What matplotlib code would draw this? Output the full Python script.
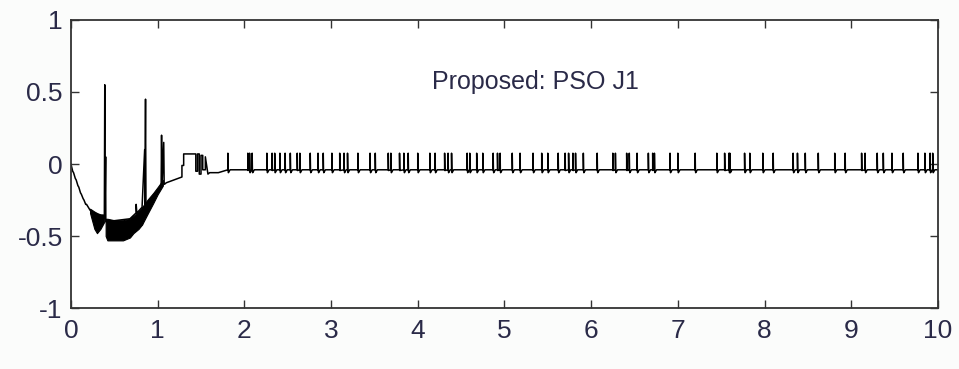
import numpy as np
import matplotlib
matplotlib.use("Agg")
import matplotlib.pyplot as plt

# ---- data ----
# skeleton of the early transient (time, value)
early_x = [0.0, 0.02, 0.03, 0.05, 0.06, 0.08, 0.09, 0.11, 0.12, 0.14, 0.15, 0.17, 0.18, 0.20, 0.22, 0.25, 0.28,
           0.385, 0.39, 0.392, 0.40, 0.402, 0.41,
           0.68, 0.75, 0.752, 0.76, 0.82, 0.85, 0.852, 0.86, 0.865, 0.87,
           0.95, 1.04, 1.045, 1.05, 1.07, 1.075, 1.08, 1.10, 1.28, 1.28, 1.30, 1.30,
           1.44, 1.44, 1.46, 1.46, 1.48, 1.48, 1.50, 1.50, 1.52, 1.52, 1.55, 1.55, 1.58, 1.60,
           1.70, 1.78]
early_y = [0.0, -0.05, -0.06, -0.10, -0.11, -0.15, -0.16, -0.20, -0.21, -0.24, -0.25, -0.28, -0.28, -0.30, -0.32, -0.34, -0.35,
           -0.36, 0.55, -0.38, 0.05, -0.40, -0.40,
           -0.38, -0.34, -0.28, -0.34, -0.30, 0.10, -0.28, 0.45, -0.27, -0.28,
           -0.22, -0.16, 0.20, -0.15, 0.15, -0.14, -0.14, -0.13, -0.09, -0.01, -0.01, 0.07,
           0.07, -0.05, -0.05, 0.07, 0.07, -0.07, -0.07, 0.06, 0.06, -0.04, -0.04, 0.05, -0.07, -0.06,
           -0.06, -0.045]

# thick oscillation bands (envelopes)
bandA_x = [0.22, 0.27, 0.30, 0.34, 0.385]
bandA_hi = [-0.31, -0.33, -0.34, -0.35, -0.35]
bandA_lo = [-0.34, -0.45, -0.48, -0.45, -0.40]

bandB_x = [0.40, 0.42, 0.50, 0.60, 0.68, 0.72, 0.78, 0.82]
bandB_hi = [-0.38, -0.38, -0.39, -0.39, -0.38, -0.36, -0.33, -0.30]
bandB_lo = [-0.50, -0.53, -0.53, -0.53, -0.51, -0.48, -0.45, -0.42]

bandC_x = [0.82, 0.88, 0.95, 1.00, 1.06]
bandC_hi = [-0.30, -0.25, -0.20, -0.16, -0.11]
bandC_lo = [-0.42, -0.35, -0.27, -0.21, -0.15]

# periodic spikes after the transient
spike_x = [1.81, 2.04, 2.09, 2.26, 2.32, 2.41, 2.47, 2.53, 2.61, 2.76, 2.85, 2.91, 3.01, 3.10,
           3.19, 3.31, 3.45, 3.51, 3.66, 3.79, 3.89, 4.00, 4.14, 4.20, 4.31, 4.39, 4.57, 4.60,
           4.68, 4.75, 4.87, 4.92, 5.09, 5.18, 5.33, 5.43, 5.50, 5.62, 5.70, 5.79, 5.91, 6.07,
           6.25, 6.41, 6.53, 6.66, 6.71, 6.91, 7.00, 7.20, 7.45, 7.54, 7.60, 7.77, 7.83, 7.98,
           8.10, 8.33, 8.38, 8.47, 8.62, 8.81, 8.93, 9.12, 9.30, 9.37, 9.47, 9.60, 9.77, 9.85,
           9.91, 9.94]
# second close spike (0 = single spike)
spike_pair = [0.0, 0.02, 0.0, 0.0, 0.03, 0.0, 0.0, 0.0, 0.03, 0.0, 0.0, 0.0, 0.0, 0.05,
              0.0, 0.0, 0.0, 0.0, 0.03, 0.05, 0.0, 0.0, 0.0, 0.0, 0.04, 0.0, 0.0, 0.0,
              0.0, 0.0, 0.0, 0.03, 0.0, 0.0, 0.0, 0.0, 0.0, 0.0, 0.04, 0.03, 0.0, 0.0,
              0.03, 0.03, 0.0, 0.0, 0.02, 0.0, 0.0, 0.0, 0.0, 0.05, 0.0, 0.0, 0.0, 0.0,
              0.0, 0.0, 0.0, 0.0, 0.0, 0.0, 0.0, 0.04, 0.0, 0.0, 0.0, 0.0, 0.0, 0.0,
              0.0, 0.0]
spike_top = 0.075
spike_base = -0.04
spike_dip = -0.06
t_end = 10.0

xticks = [0, 1, 2, 3, 4, 5, 6, 7, 8, 9, 10]
yticks = [-1, -0.5, 0, 0.5, 1]
ytick_labels = ["-1", "-0.5", "0", "0.5", "1"]
label_text = "Proposed: PSO J1"

# ---- build the spike part of the trace ----
xs = list(early_x)
ys = list(early_y)
for sx, p in zip(spike_x, spike_pair):
    xs += [sx, sx, sx + 0.003]
    ys += [spike_base, spike_top, spike_base - 0.005]
    if p > 0:
        xs += [sx + p, sx + p, sx + p + 0.003]
        ys += [spike_base, spike_top, spike_base - 0.005]
    xs += [sx + p + 0.006, sx + p + 0.025]
    ys += [spike_dip, spike_base]
xs.append(t_end)
ys.append(spike_base)

# ---- figure ----
plt.rcParams['font.family'] = ['Liberation Sans', 'DejaVu Sans']
fig = plt.figure(figsize=(9.59, 3.69), dpi=100, facecolor='#fbfcfb')
ax = fig.add_axes([0.074, 0.165, 0.904, 0.781])
ax.set_facecolor('white')

for bx, lo, hi in [(bandA_x, bandA_lo, bandA_hi), (bandB_x, bandB_lo, bandB_hi),
                   (bandC_x, bandC_lo, bandC_hi)]:
    ax.fill_between(bx, lo, hi, color='black', linewidth=0.8, edgecolor='black')

ax.plot(xs, ys, color='black', linewidth=1.1)

ax.set_xlim(0, 10)
ax.set_ylim(-1, 1)
ax.set_xticks(xticks)
ax.set_yticks(yticks)
ax.set_yticklabels(ytick_labels)
ax.tick_params(direction='in', length=6, width=1.0, top=True, right=True,
               labelsize=19, colors='#333333', labelcolor='#2a2a48')
ax.tick_params(axis='x', pad=8)
ax.tick_params(axis='y', pad=6)
for s in ax.spines.values():
    s.set_color('#333333')
    s.set_linewidth(1.3)

ax.text(5.36, 0.57, label_text, ha='center', va='center', fontsize=18, color='#2a2a48')

fig.savefig('out.png', dpi=100, facecolor=fig.get_facecolor())
